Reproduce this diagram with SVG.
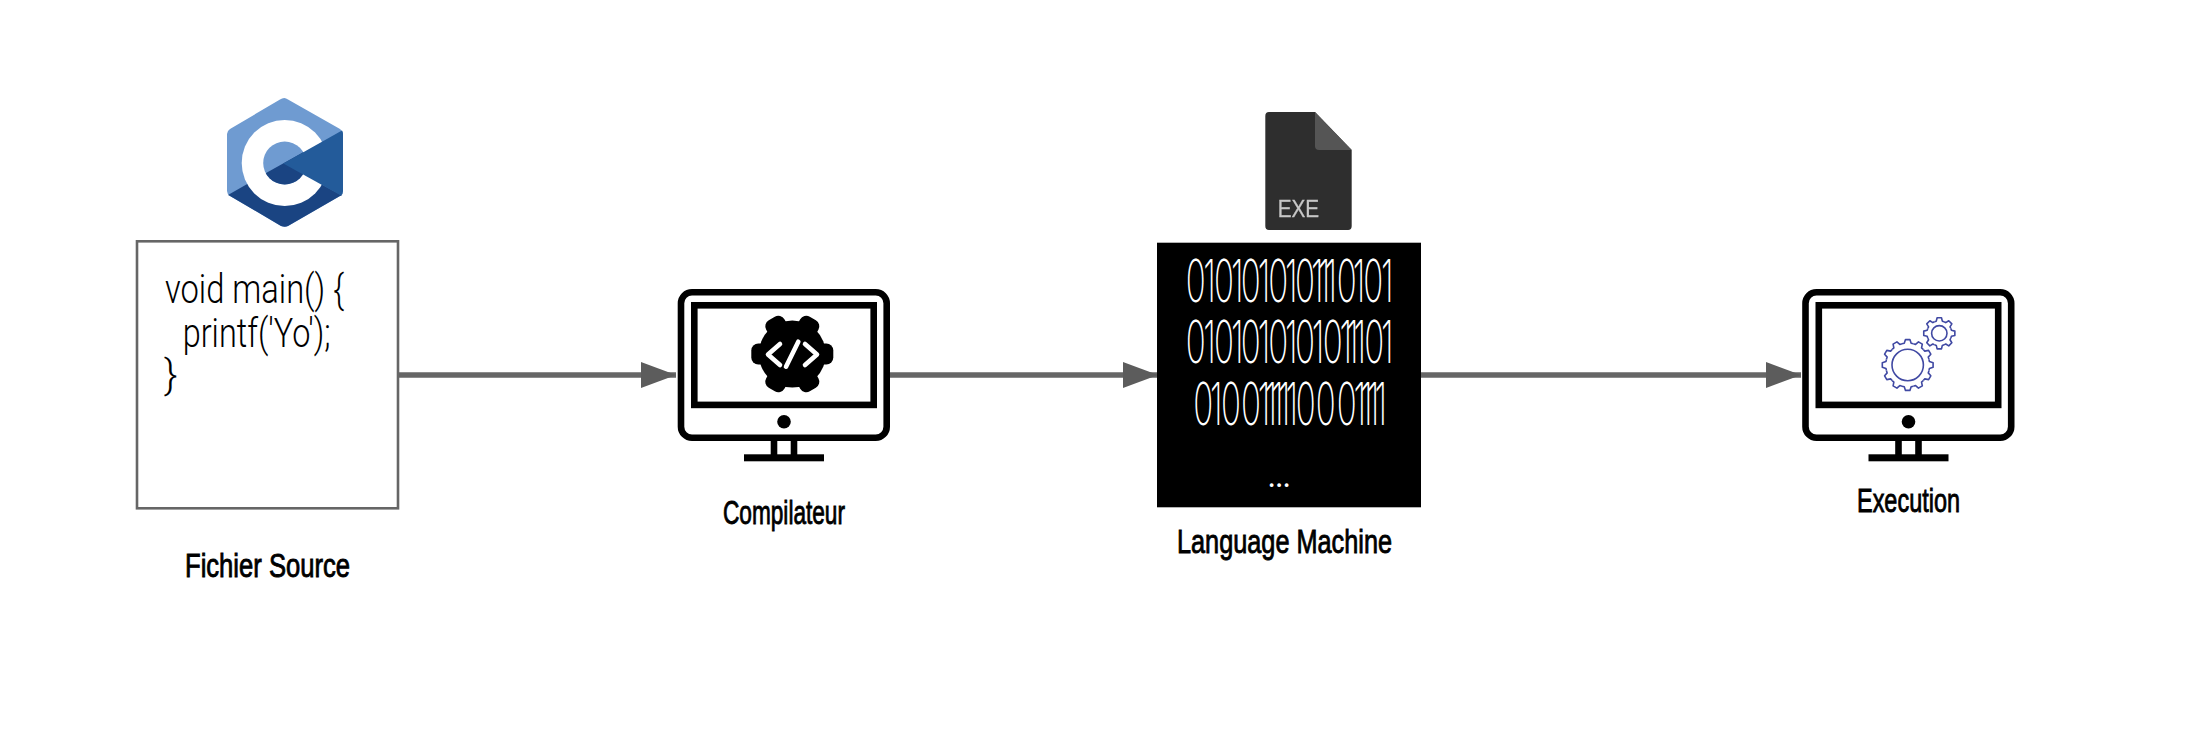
<svg xmlns="http://www.w3.org/2000/svg" width="2192" height="730" viewBox="0 0 2192 730">
<style>
.lbl{font-family:"Liberation Sans",Arial,sans-serif;font-size:34px;fill:#000;stroke:#000;stroke-width:.9px}
.code{font-family:Roboto,"Liberation Sans",sans-serif;font-weight:300;font-size:41px;fill:#000}
.bin{font-family:Inter,Roboto,"Liberation Sans",sans-serif;font-weight:200;font-size:59px;fill:#fff;text-anchor:middle}
.conn{stroke:#666;stroke-width:5.3;fill:none;marker-end:url(#ah)}
.m{fill:none;stroke:#000;stroke-width:6.6}
.g{fill:none;stroke:#4049a3;stroke-width:1.6;stroke-linejoin:round}
</style>
<defs>
<marker id="ah" markerUnits="userSpaceOnUse" markerWidth="36" markerHeight="28" refX="35" refY="13.5" orient="auto"><path d="M0 0.5L35 13.5L0 26.5Z" fill="#5c5c5c"/></marker>
<filter id="soft" x="-5%" y="-5%" width="110%" height="110%"><feGaussianBlur stdDeviation="0.7"/></filter>
<clipPath id="below"><path d="M227 195L343 130L343 240L227 240Z"/></clipPath>
<g id="monitor">
<rect class="m" x="681" y="292.3" width="205.7" height="145.4" rx="11"/>
<rect class="m" x="694.3" y="305.3" width="179.4" height="99.6"/>
<circle cx="784" cy="421.7" r="6.8" fill="#000"/>
<path class="m" d="M774 440V456M794 440V456"/>
<rect x="744" y="454.3" width="80" height="7" fill="#000"/>
</g>
<path id="t12" class="g" d="M21.25-5.69L21.73-3.44L25.4-2.22L25.4 2.22L21.73 3.44L21.25 5.69"/>
<path id="t8" class="g" d="M11.55-4.78L12.13-3.02L15.55-2.19L15.55 2.19L12.13 3.02L11.55 4.78"/>
<rect id="lobe" x="0" y="-10.5" width="41" height="21" rx="7" fill="#000"/>
</defs>

<g id="connectors">
<path class="conn" d="M398 375H676"/>
<path class="conn" d="M890 375H1158"/>
<path class="conn" d="M1420 375H1801"/>
</g>

<g id="source">
<g id="c-logo">
<path d="M284.3 98Q286 98 288 99.5L340 129Q343 131 343 134V191Q343 194 340 196L288 226Q285 227.5 281 226L230 196Q227 194 227 191V134Q227 131 230 129L280 99.5Q282 98 284.3 98Z" fill="#6f9bd1"/>
<path d="M228 195L283.3 163.5L342 195.5L340 196L288 226Q285 227.5 281 226L230 196Z" fill="#1a4482"/>
<circle cx="284.7" cy="163" r="43" fill="#fff"/>
<circle cx="284.7" cy="163" r="21.5" fill="#6f9bd1"/>
<circle cx="284.7" cy="163" r="21.5" fill="#1a4482" clip-path="url(#below)"/>
<path d="M283.3 163.5L342 130.5Q343 131.5 343 134V191Q343 194 341 195.5Z" fill="#235b9a"/>
</g>
<rect x="137" y="241.3" width="261" height="267" fill="#fff" stroke="#666" stroke-width="2.6"/>
<text class="code" x="165" y="303.3" textLength="179" lengthAdjust="spacingAndGlyphs">void main() {</text>
<text class="code" x="182.7" y="346.7" textLength="148" lengthAdjust="spacingAndGlyphs">printf('Yo');</text>
<text class="code" x="164" y="388">}</text>
<text class="lbl" x="185" y="577" textLength="165" lengthAdjust="spacingAndGlyphs">Fichier Source</text>
</g>

<g id="compiler">
<use href="#monitor"/>
<g transform="translate(792.3 354)">
<circle r="33.5" fill="#000"/>
<use href="#lobe"/><use href="#lobe" transform="rotate(60)"/><use href="#lobe" transform="rotate(120)"/><use href="#lobe" transform="rotate(180)"/><use href="#lobe" transform="rotate(240)"/><use href="#lobe" transform="rotate(300)"/>
<path d="M-12.3-10L-24.3.5L-12.3 11M12.7-10L24.7.5L12.7 11M6-12.3L-6.3 12.7" fill="none" stroke="#fff" stroke-width="4.6" stroke-linecap="round" stroke-linejoin="round"/>
</g>
<text class="lbl" x="723" y="524" textLength="122" lengthAdjust="spacingAndGlyphs">Compilateur</text>
</g>

<g id="machine">
<g id="exe-icon" filter="url(#soft)">
<path d="M1269 112H1315L1351.7 150V226Q1351.7 230 1348 230H1269Q1265.3 230 1265.3 226V116Q1265.3 112 1269 112Z" fill="#2d2d2d"/>
<path d="M1315 112L1351.7 150H1319Q1315 150 1315 146Z" fill="#555"/>
<text x="1277.7" y="216.7" font-family="'Liberation Sans',sans-serif" font-size="24.5" fill="#c8c8c8" stroke="#c8c8c8" stroke-width=".3" textLength="41.5" lengthAdjust="spacingAndGlyphs">EXE</text>
</g>
<rect x="1157" y="242.7" width="264" height="264.6" fill="#000"/>
<g transform="translate(1190 0) scale(.56 1)">
<text class="bin" y="302.5" x="10.2 35.1 60.7 84.4 108.4 132.1 157.7 180.8 205.3 227.3 239.3 251.2 279.8 301.7 327.3 352.2">0101010101110101</text>
<text class="bin" y="363" x="10.2 35.1 60.7 84.4 108.4 132.1 157.7 180.8 205.3 228.6 254.8 278 289.8 303 329.1 352.2">0101010101011101</text>
<text class="bin" y="425" x="23.7 47 73.2 108.9 132.1 144.1 155.9 167.8 181.6 206.5 242.3 279.8 303 314.8 326.8 340.5">0100111110001111</text>
</g>
<text x="1271.7 1279.2 1286.7" y="487" text-anchor="middle" font-family="Lato,'Liberation Sans',sans-serif" font-weight="700" font-size="24" fill="#fff">...</text>
<text class="lbl" x="1177" y="553" textLength="215" lengthAdjust="spacingAndGlyphs">Language Machine</text>
</g>

<g id="execution">
<use href="#monitor" transform="translate(1124.5 0)"/>
<g transform="translate(1907.7 365)">
<circle class="g" r="15.7"/>
<use href="#t12"/><use href="#t12" transform="rotate(30)"/><use href="#t12" transform="rotate(60)"/><use href="#t12" transform="rotate(90)"/><use href="#t12" transform="rotate(120)"/><use href="#t12" transform="rotate(150)"/><use href="#t12" transform="rotate(180)"/><use href="#t12" transform="rotate(210)"/><use href="#t12" transform="rotate(240)"/><use href="#t12" transform="rotate(270)"/><use href="#t12" transform="rotate(300)"/><use href="#t12" transform="rotate(330)"/>
</g>
<g transform="translate(1939.3 333.3)">
<circle class="g" r="7.7"/>
<use href="#t8"/><use href="#t8" transform="rotate(45)"/><use href="#t8" transform="rotate(90)"/><use href="#t8" transform="rotate(135)"/><use href="#t8" transform="rotate(180)"/><use href="#t8" transform="rotate(225)"/><use href="#t8" transform="rotate(270)"/><use href="#t8" transform="rotate(315)"/>
</g>
<text class="lbl" x="1857" y="511.7" textLength="103" lengthAdjust="spacingAndGlyphs">Execution</text>
</g>
</svg>
